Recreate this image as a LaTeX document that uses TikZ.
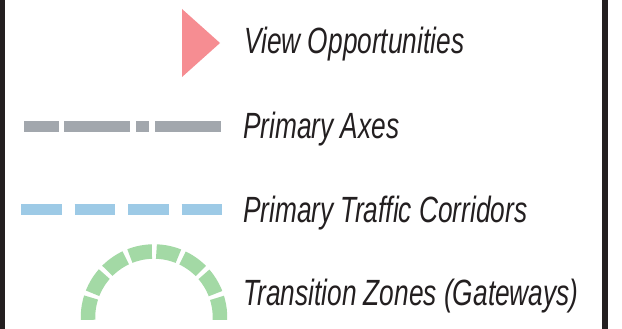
\documentclass[tikz,border=0pt]{standalone}
\usepackage{fontspec}
\setmainfont{Liberation Sans}[FakeStretch=0.72]

\definecolor{keyblack}{HTML}{231F20}
\definecolor{viewpink}{HTML}{F68D92}
\definecolor{axisgray}{HTML}{A2A7AD}
\definecolor{corridorblue}{HTML}{9DCAE6}
\definecolor{gatewaygreen}{HTML}{A3D9A5}

\begin{document}
\begin{tikzpicture}
    [x=1pt,y=-1pt,%%%%%%%%%%%%%%%%%%%%%%%%%%%%%%
        keylabel/.style={anchor=base west, inner sep=0pt, text=keyblack,
            font=\fontsize{36.5}{40}\selectfont\itshape},
        axisline/.style={draw=axisgray, line width=11pt,
            dash pattern=on 35pt off 5pt on 66pt off 6pt on 13pt off 6pt on 66pt},
        corridorline/.style={draw=corridorblue, line width=11pt,
            dash pattern=on 40.5pt off 13pt},
        gatewayarc/.style={draw=gatewaygreen, line width=14.5pt,
            dash pattern=on 22.6pt off 4.5pt},
    ]%%%%%%%%%%%%%%%%%%%%%%%%%%%%%%
    \useasboundingbox[fill=white] (0,0) rectangle (622,329);
    \fill[keyblack] (0,0) rectangle (5,329);
    \fill[keyblack] (602,0) rectangle (608,329);

    % symbols
    \fill[viewpink] (182,9) -- (220,43) -- (182,77) -- cycle;
    \draw[axisline] (24,126.5) -- (221,126.5);
    \draw[corridorline] (21,209) -- (222,209);
    \draw[gatewayarc] (154,317.5) ++(178:66) arc[start angle=178, end angle=362, radius=66];

    % labels
    \node[keylabel] (view) at (244,54) {View Opportunities};
    \node[keylabel] (axes) at (243,139) {Primary Axes};
    \node[keylabel] (traffic) at (243,222) {Primary Traffic Corridors};
    \node[keylabel] (gateway) at (243,305) {Transition Zones (Gateways)};

\end{tikzpicture}
\end{document}
